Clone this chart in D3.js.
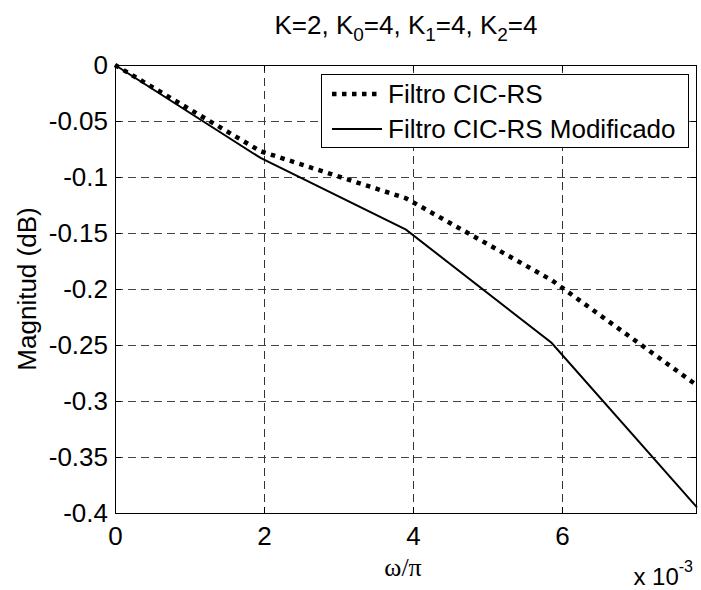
<!DOCTYPE html>
<html><head><meta charset="utf-8">
<script src="https://cdn.jsdelivr.net/npm/d3@7"></script>
<style>body{margin:0;background:#fff;} text{font-family:"Liberation Sans",Arial,sans-serif;fill:#000;}</style>
</head><body>
<script>
const freq = [0, 1.953125, 3.90625, 5.859375, 7.8125];           // x 10^-3
const cicRS = [0, -0.077, -0.119, -0.192, -0.286];
const cicRSMod = [0, -0.083, -0.147, -0.248, -0.395];
const xTicks = [0, 2, 4, 6];
const yTicks = [0, -0.05, -0.1, -0.15, -0.2, -0.25, -0.3, -0.35, -0.4];
const seriesNames = ["Filtro CIC-RS", "Filtro CIC-RS Modificado"];

const W = 701, H = 590;
const m = {l:115, t:65, r:4, b:77};
const pw = W - m.l - m.r, ph = H - m.t - m.b;
const svg = d3.select("body").append("svg").attr("width", W).attr("height", H);
const x = d3.scaleLinear().domain([0, 7.8125]).range([m.l, m.l + pw]);
const y = d3.scaleLinear().domain([-0.4, 0]).range([m.t + ph, m.t]);
const fs = 26;

// grid
const g = svg.append("g");
g.selectAll(".vg").data(xTicks.filter(d => d > 0)).enter().append("line")
  .attr("x1", d => Math.round(x(d)) + 0.5).attr("x2", d => Math.round(x(d)) + 0.5).attr("y1", m.t).attr("y2", m.t + ph)
  .attr("stroke", "#333").attr("stroke-width", 1).attr("stroke-dasharray", "8,5");
g.selectAll(".hg").data(yTicks.filter(d => d < 0 && d > -0.4)).enter().append("line")
  .attr("y1", d => Math.round(y(d)) + 0.5).attr("y2", d => Math.round(y(d)) + 0.5).attr("x1", m.l).attr("x2", m.l + pw)
  .attr("stroke", "#444").attr("stroke-width", 1).attr("stroke-dasharray", "8,5");

// axes
const xAxB = d3.axisBottom(x).tickValues(xTicks).tickSize(-6).tickPadding(14).tickFormat(d3.format("d"));
const xAxT = d3.axisTop(x).tickValues(xTicks).tickSize(-6).tickFormat("");
const yAxL = d3.axisLeft(y).tickValues(yTicks).tickSize(-6).tickPadding(7).tickFormat(d => d === 0 ? "0" : String(d));
const yAxR = d3.axisRight(y).tickValues(yTicks).tickSize(-6).tickFormat("");
function style(sel){ sel.selectAll("path").remove(); sel.selectAll("line").attr("stroke","#000");
  sel.selectAll("text").attr("fill","#000").style("font-size", fs+"px").style("font-family","Liberation Sans, Arial"); }
svg.append("g").attr("transform", `translate(0,${m.t+ph})`).call(xAxB).call(style);
svg.append("g").attr("transform", `translate(0,${m.t})`).call(xAxT).call(style);
svg.append("g").attr("transform", `translate(${m.l},0)`).call(yAxL).call(style);
svg.append("g").attr("transform", `translate(${m.l+pw},0)`).call(yAxR).call(style);
svg.append("rect").attr("x", m.l + 0.5).attr("y", m.t + 0.5).attr("width", pw - 1).attr("height", ph)
  .attr("fill", "none").attr("stroke", "#000").attr("stroke-width", 1);

// lines
const line = d3.line().x((d, i) => x(freq[i])).y(d => y(d));
svg.append("path").datum(cicRS).attr("d", line).attr("fill", "none").attr("stroke", "#000")
  .attr("stroke-width", 4.5).attr("stroke-dasharray", "4.5,5.5");
svg.append("path").datum(cicRSMod).attr("d", line).attr("fill", "none").attr("stroke", "#000")
  .attr("stroke-width", 2);

// legend
const lg = svg.append("g");
lg.append("rect").attr("x", 321.5).attr("y", 74.5).attr("width", 367).attr("height", 73)
  .attr("fill", "#fff").attr("stroke", "#000").attr("stroke-width", 1);
const rows = [94, 129];
lg.append("line").attr("x1", 332).attr("x2", 382).attr("y1", rows[0]).attr("y2", rows[0])
  .attr("stroke", "#000").attr("stroke-width", 4.5).attr("stroke-dasharray", "4.5,5.5");
lg.append("line").attr("x1", 332).attr("x2", 382).attr("y1", rows[1]).attr("y2", rows[1])
  .attr("stroke", "#000").attr("stroke-width", 2);
seriesNames.forEach((n, i) => lg.append("text").attr("x", 388).attr("y", rows[i] + 9)
  .style("font-size", fs + "px").text(n));

// title
const t = svg.append("text").attr("x", x(7.8125 / 2)).attr("y", 34).attr("text-anchor", "middle").style("font-size", fs + "px");
const parts = [["K=2, K", null], ["0", "sub"], ["=4, K", null], ["1", "sub"], ["=4, K", null], ["2", "sub"], ["=4", null]];
parts.forEach((p, i) => {
  const ts = t.append("tspan").text(p[0]);
  if (p[1] === "sub") ts.attr("dy", 7).style("font-size", "19px");
  else if (i > 0) ts.attr("dy", -7);
});

// axis labels
svg.append("text").attr("transform", `translate(36,${m.t + ph / 2}) rotate(-90)`).attr("text-anchor", "middle")
  .style("font-size", fs + "px").text("Magnitud (dB)");
svg.append("text").attr("x", 403).attr("y", 576).attr("text-anchor", "middle")
  .style("font-family", "Liberation Serif, Times New Roman, serif").style("font-size", "26px").text("ω/π");
const e = svg.append("text").attr("x", 693).attr("y", 585).attr("text-anchor", "end").style("font-size", "24px");
e.append("tspan").text("x 10");
e.append("tspan").attr("dy", -13).style("font-size", "16px").text("-3");
</script>
</body></html>
